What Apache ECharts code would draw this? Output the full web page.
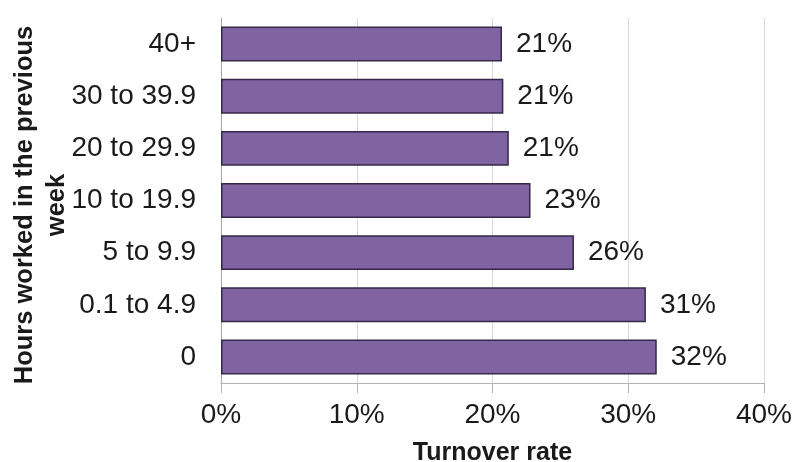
<!DOCTYPE html>
<html>
<head>
<meta charset="utf-8">
<script src="https://cdn.jsdelivr.net/npm/echarts@6/dist/echarts.min.js"></script>
<style>
  html, body { margin: 0; padding: 0; background: #ffffff; }
  #chart { width: 792px; height: 462px; }
</style>
</head>
<body>
<div id="chart"></div>
<script>
// Hours worked bands, listed from the bottom of the axis upwards
const categories = ['0', '0.1 to 4.9', '5 to 9.9', '10 to 19.9', '20 to 29.9', '30 to 39.9', '40+'];
// Turnover rate for each band, in percent
const turnoverRate = [32.1, 31.3, 26.0, 22.8, 21.2, 20.8, 20.7];
// Value axis ticks (percent)
const xTicks = [0, 10, 20, 30, 40];

const FONT = "'Liberation Sans', Arial, sans-serif";
const TEXT = '#1a1a1a';

const chart = echarts.init(document.getElementById('chart'), null, { renderer: 'canvas' });

chart.setOption({
  animation: false,
  backgroundColor: '#ffffff',
  grid: { left: 221, right: 28, top: 18, bottom: 79, containLabel: false, outerBoundsMode: 'none' },
  xAxis: {
    type: 'value',
    min: xTicks[0],
    max: xTicks[xTicks.length - 1],
    interval: xTicks[1] - xTicks[0],
    name: 'Turnover rate',
    nameLocation: 'middle',
    nameGap: 58,
    nameMoveOverlap: false,
    nameTextStyle: { fontFamily: FONT, fontSize: 25, fontWeight: 'bold', color: TEXT },
    axisLine: { show: true, lineStyle: { color: '#b3b3b3', width: 1 } },
    axisTick: { show: true, length: 10, lineStyle: { color: '#b3b3b3' } },
    axisLabel: {
      margin: 18,
      fontFamily: FONT, fontSize: 28, color: TEXT,
      formatter: v => v + '%'
    },
    splitLine: { show: true, lineStyle: { color: '#d9d9d9', width: 1 } }
  },
  yAxis: {
    type: 'category',
    data: categories,
    name: 'Hours worked in the previous\nweek',
    nameLocation: 'middle',
    nameRotate: 90,
    nameGap: 148,
    nameMoveOverlap: false,
    nameTextStyle: {
      fontFamily: FONT, fontSize: 25.5, fontWeight: 'bold', color: TEXT,
      lineHeight: 32, align: 'center', padding: [0, 9, 0, 0]
    },
    axisLine: { show: true, lineStyle: { color: '#a6a6a6', width: 1 } },
    axisTick: { show: false },
    axisLabel: { margin: 25, fontFamily: FONT, fontSize: 28, color: TEXT },
    splitLine: { show: false }
  },
  series: [{
    type: 'bar',
    data: turnoverRate,
    barWidth: '67%',
    itemStyle: { color: '#8064a2', borderColor: '#35284a', borderWidth: 1.5 },
    label: {
      show: true,
      position: 'right',
      distance: 14,
      fontFamily: FONT, fontSize: 28, color: TEXT,
      formatter: p => Math.round(p.value) + '%'
    }
  }]
});
</script>
</body>
</html>
